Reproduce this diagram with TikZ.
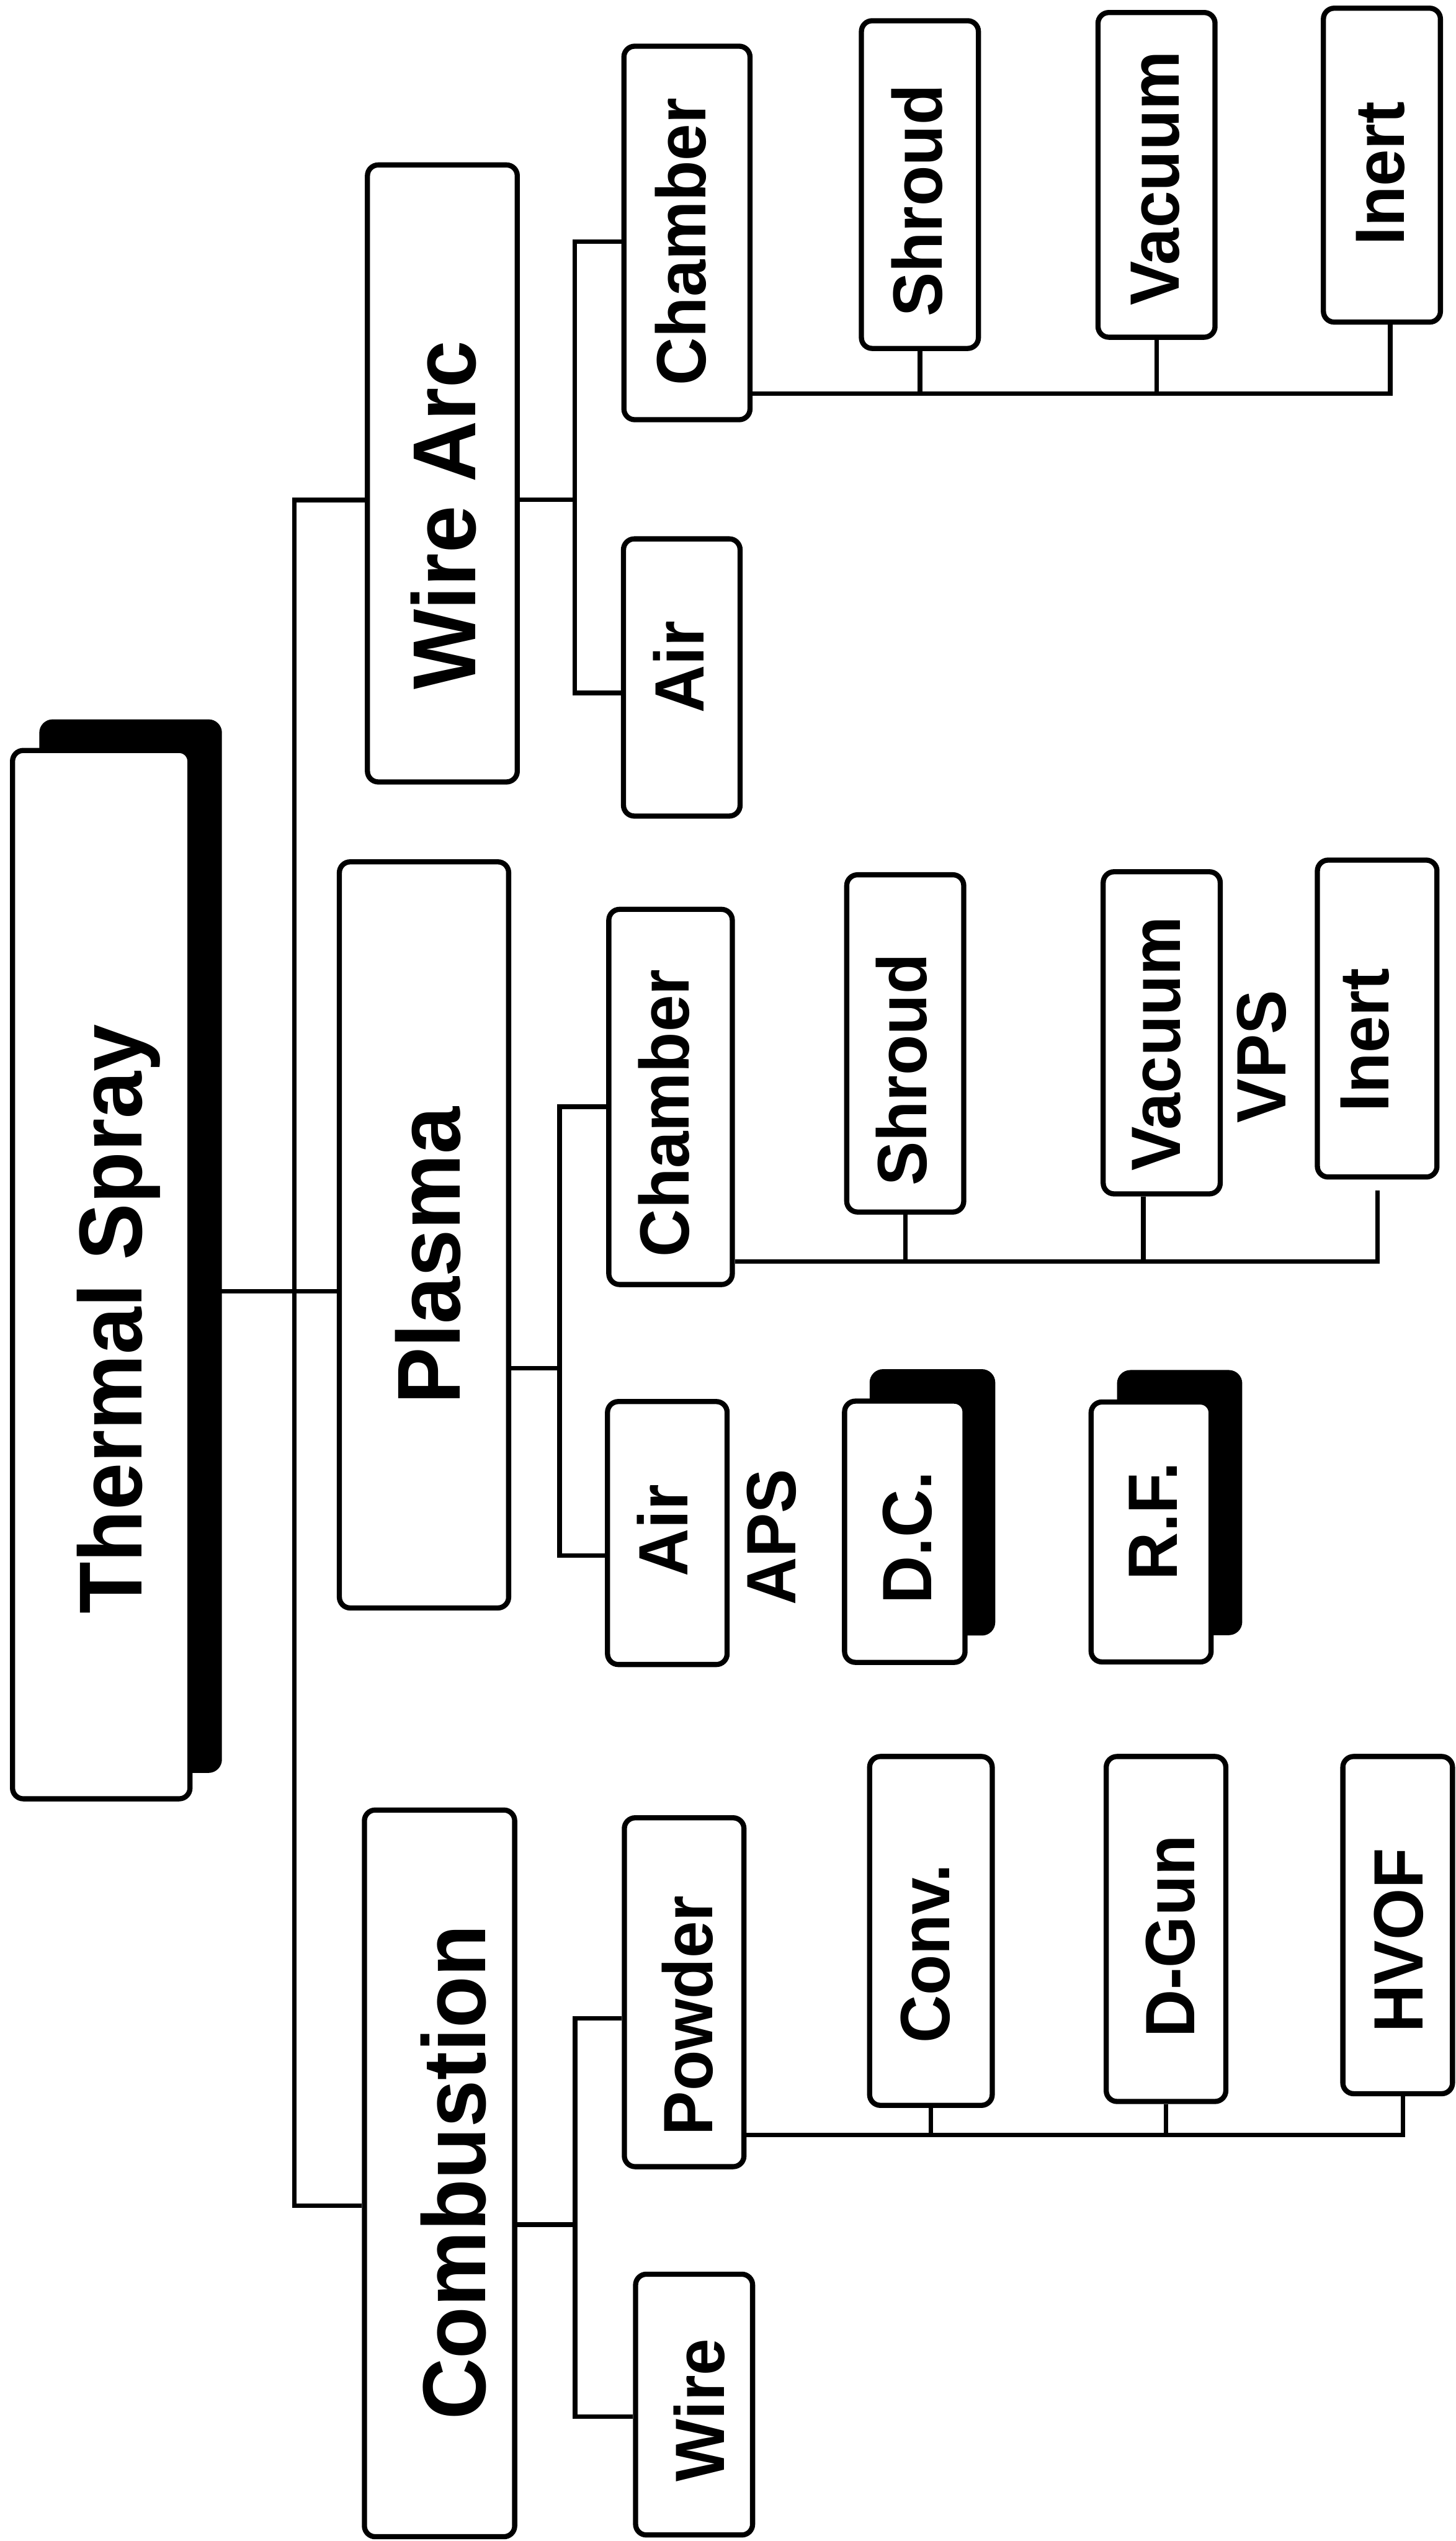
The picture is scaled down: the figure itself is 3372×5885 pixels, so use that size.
\documentclass[tikz,border=0pt]{standalone}
\usepackage{fontspec}
\setmainfont{Liberation Sans}[FakeStretch=0.95]
\begin{document}
\begin{tikzpicture}[x=0.1mm,y=-0.1mm,
  box/.style={draw, line width=3.4pt, rounded corners=2.5mm, fill=white, inner sep=0pt},
  shadowbox/.style={draw, fill=black, line width=3.4pt, rounded corners=2.5mm, inner sep=0pt},
  wire/.style={line width=3pt},
  big/.style={rotate=90, anchor=base, inner sep=0pt, font=\fontsize{58.9pt}{60pt}\selectfont\bfseries},
  small/.style={rotate=90, anchor=base, inner sep=0pt, font=\fontsize{46pt}{48pt}\selectfont\bfseries},
]
\useasboundingbox (0,0) rectangle (3372,5885);

% ---------- boxes ----------
% root with drop shadow
\node[shadowbox, minimum width=41.1mm, minimum height=242.8mm] (tsS) at (302.5,2886) {};
\node[box, minimum width=41.1mm, minimum height=242.8mm] (ts) at (234.5,2952) {};

% first level
\node[box, minimum width=34.7mm, minimum height=142.9mm] (wa) at (1024.5,1096.5) {};
\node[box, minimum width=39.2mm, minimum height=172.8mm] (pl) at (982,2860) {};
\node[box, minimum width=34.8mm, minimum height=168.3mm] (co) at (1018,5033.5) {};

% wire arc branch
\node[box, minimum width=29.2mm, minimum height=86.5mm] (wach) at (1591,539.5) {};
\node[box, minimum width=27.0mm, minimum height=64.2mm] (waair) at (1579,1569) {};
\node[box, minimum width=27.1mm, minimum height=75.9mm] (wash) at (2130.5,427.5) {};
\node[box, minimum width=27.1mm, minimum height=75.2mm] (wava) at (2678.5,405) {};
\node[box, minimum width=27.1mm, minimum height=72.7mm] (wain) at (3200.5,382.5) {};

% plasma branch
\node[box, minimum width=28.6mm, minimum height=86.9mm] (plch) at (1553,2540.5) {};
\node[box, minimum width=27.7mm, minimum height=60.9mm] (plair) at (1545.5,3550.5) {};
\node[box, minimum width=27.1mm, minimum height=78.1mm] (plsh) at (2096.5,2416.5) {};
\node[box, minimum width=27.1mm, minimum height=74.6mm] (plva) at (2690.5,2392) {};
\node[box, minimum width=27.7mm, minimum height=73.4mm] (plin) at (3189.5,2359) {};
\node[shadowbox, minimum width=27.9mm, minimum height=60.5mm] (dcS) at (2159.5,3479.5) {};
\node[box, minimum width=27.9mm, minimum height=60.5mm] (dc) at (2095.5,3547.5) {};
\node[shadowbox, minimum width=27.8mm, minimum height=60.2mm] (rfS) at (2732,3480) {};
\node[box, minimum width=27.8mm, minimum height=60.2mm] (rf) at (2666,3548) {};

% combustion branch
\node[box, minimum width=27.7mm, minimum height=80.8mm] (po) at (1584.5,4614) {};
\node[box, minimum width=27.1mm, minimum height=60.4mm] (wi) at (1607.5,5569) {};
\node[box, minimum width=28.4mm, minimum height=80.8mm] (cv) at (2156,4472) {};
\node[box, minimum width=27.7mm, minimum height=79.9mm] (dg) at (2700.5,4467.5) {};
\node[box, minimum width=25.4mm, minimum height=78.1mm] (hv) at (3237,4458.5) {};

% ---------- connectors ----------
\coordinate (tt) at (682,1158);
\coordinate (tb) at (682,5108);
\coordinate (tm) at (682,2991);
\draw[wire] (wa.west |- tt) -- (tt) -- (tb) -- (co.west |- tb);
\draw[wire] (ts.east |- tm) -- (pl.west |- tm);

% wire arc
\coordinate (wj) at (1331,1157);
\coordinate (wja) at (1331,560);
\coordinate (wjb) at (1331,1605);
\coordinate (wbus) at (3220,912);
\draw[wire] (wa.east |- wj) -- (wj);
\draw[wire] (wach.west |- wja) -- (wja) -- (wjb) -- (waair.west |- wjb);
\draw[wire] (wach.east |- wbus) -- (wbus) -- (wain.south -| wbus);
\draw[wire] (wash.south) -- (wash.south |- wbus);
\draw[wire] (wava.south) -- (wava.south |- wbus);

% plasma
\coordinate (pj) at (1296,3169);
\coordinate (pja) at (1296,2563);
\coordinate (pjb) at (1296,3603);
\coordinate (pbus) at (3190,2922);
\coordinate (pig) at (3190,2757);
\coordinate (pvs) at (2648,2922);
\draw[wire] (pl.east |- pj) -- (pj);
\draw[wire] (plch.west |- pja) -- (pja) -- (pjb) -- (plair.west |- pjb);
\draw[wire] (plch.east |- pbus) -- (pbus) -- (pig);
\draw[wire] (plsh.south) -- (plsh.south |- pbus);
\draw[wire] (pvs) -- (pvs |- plva.south);

% combustion
\coordinate (cj) at (1332,5152);
\coordinate (cja) at (1332,4674);
\coordinate (cjb) at (1332,5597);
\coordinate (cbus) at (3249,4945);
\draw[wire] (co.east |- cj) -- (cj);
\draw[wire] (po.west |- cja) -- (cja) -- (cjb) -- (wi.west |- cjb);
\draw[wire] (po.east |- cbus) -- (cbus) -- (hv.south -| cbus);
\draw[wire] (cv.south) -- (cv.south |- cbus);
\draw[wire] (dg.south) -- (dg.south |- cbus);

% ---------- labels ----------
\node[big] (tsT) at (329,3055) {Thermal Spray};
\node[big] (waT) at (1101,1193) {Wire Arc};
\node[big] (plT) at (1065,2908) {Plasma};
\node[big] (coT) at (1124,5031) {Combustion};

\node[small] (wachT) at (1635,560) {Chamber};
\node[small] (waairT) at (1630,1545) {Air};
\node[small] (washT) at (2182,465) {Shroud};
\node[small] (wavaT) at (2730,413) {Vacuum};
\node[small] (wainT) at (3252,402) {Inert};

\node[small] (plchT) at (1596,2578) {Chamber};
\node[small] (plairT) at (1593,3545) {Air};
\node[small] (apsT) at (1842,3560) {APS};
\node[small] (plshT) at (2146,2478) {Shroud};
\node[small] (plvaT) at (2734,2417) {Vacuum};
\node[small] (vpsT) at (2978,2447) {VPS};
\node[small] (plinT) at (3216,2409) {Inert};
\node[small] (dcT) at (2157,3561) {D.C.};
\node[small] (rfT) at (2726,3523) {R.F.};

\node[small] (poT) at (1650,4668) {Powder};
\node[small] (wiT) at (1677,5582) {Wire};
\node[small] (cvT) at (2199,4525) {Conv.};
\node[small] (dgT) at (2767,4485) {D-Gun};
\node[small] (hvT) at (3295,4494) {HVOF};
\end{tikzpicture}
\end{document}
